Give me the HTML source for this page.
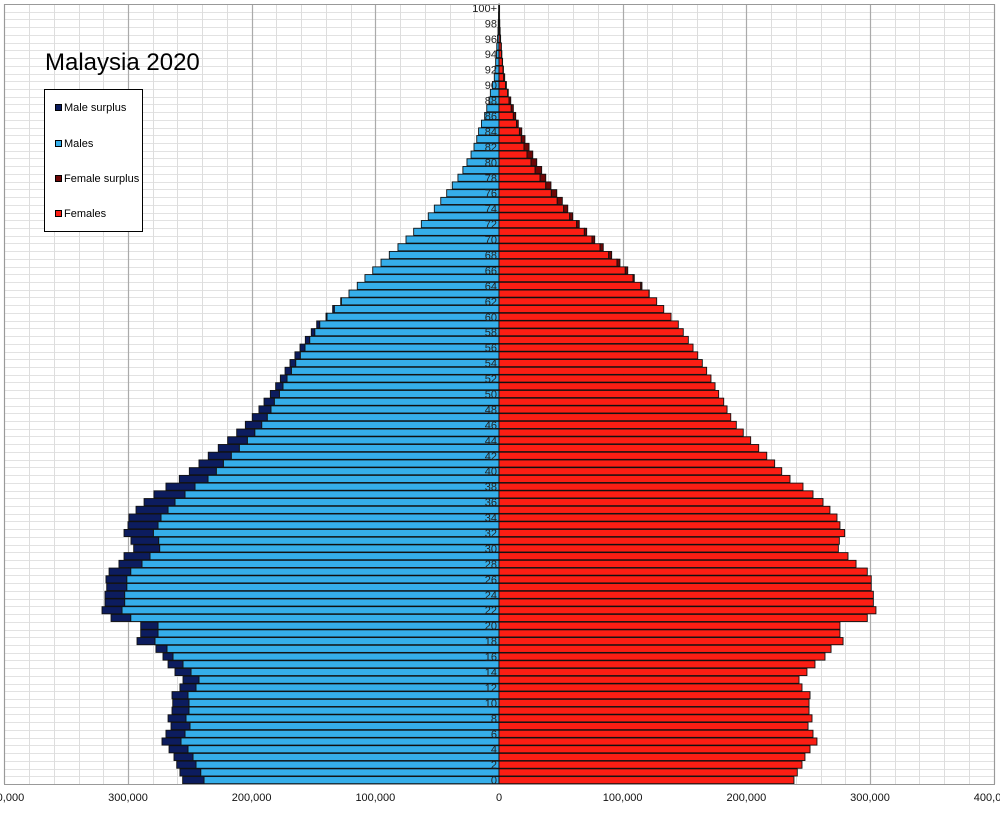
<!DOCTYPE html>
<html><head><meta charset="utf-8"><style>
html,body{margin:0;padding:0;background:#fff;}
svg{display:block;font-family:"Liberation Sans",sans-serif;}
</style></head><body>
<svg id="chart" width="1000" height="813" viewBox="0 0 1000 813" xmlns="http://www.w3.org/2000/svg">
<g id="grid"></g>
<g id="bars"></g>
<g id="ages"></g>
<rect x="4.5" y="4.5" width="990" height="780" fill="none" stroke="#999" stroke-width="1"/>
<g id="xticks"></g>
<text x="45" y="70" font-size="24" fill="#000">Malaysia 2020</text>
<g>
<rect x="44.5" y="89.5" width="98" height="142" fill="#fff" stroke="#000"/>
<g><rect x="55.5" y="104.5" width="6" height="6" fill="#0c1c5e" stroke="#000"/><text x="64" y="111" font-size="11">Male surplus</text></g>
<g><rect x="55.5" y="140.5" width="6" height="6" fill="#35aeea" stroke="#000"/><text x="64" y="147" font-size="11">Males</text></g>
<g><rect x="55.5" y="175.5" width="6" height="6" fill="#6e0606" stroke="#000"/><text x="64" y="182" font-size="11">Female surplus</text></g>
<g><rect x="55.5" y="210.5" width="6" height="6" fill="#fb1e14" stroke="#000"/><text x="64" y="217" font-size="11">Females</text></g>
</g>
</svg>
<script>
// population in thousands, ages 0..100+
const males = [255.8,258,260.6,262.8,266.8,272.5,269.3,265.2,267.6,264.4,263.8,264.4,258,255.5,262,267.6,271.7,277.4,292.7,289.7,289.7,313.7,321,318.6,318.6,317.2,317.8,315.3,307.3,303.2,295.4,297.6,303.2,300,299.2,293.5,287,279,269.3,258.5,250.4,242.6,235.1,227,219.4,212.1,205.1,199.5,194.1,190,184.9,180.6,176.8,173,169,165,160.9,156.6,151.8,147.4,139.9,134.5,128,121.3,114.6,108.4,102.1,95.4,88.7,81.7,75.2,69,62.8,57.2,52.3,47.1,42.3,37.8,33.2,29.2,25.9,22.6,20.2,18,16.5,14.2,11.6,9.9,8.1,7,5.3,3.8,3.2,2.7,2.1,1.8,1.2,0.8,0.6,0.4,0.3];
const females = [238.5,241.2,245,247.4,251.5,257.1,253.9,249.9,253.1,250.7,250.7,251.5,245,242.6,249,255.5,263.6,268.5,278.2,275.7,275.7,297.8,304.8,302.7,302.7,301,301,297.8,288.7,282.2,274.4,275.2,279.5,275.7,273.3,267.6,262,253.9,245.8,235.3,228.6,222.9,216.5,210,203.5,197.5,191.9,187.4,184.4,181.7,177.6,174.7,171.4,167.9,164.4,160.7,156.9,153.1,149,145,139.1,133.2,127.5,121.5,115.6,109.4,104.1,97.8,91.1,84.3,77.4,70.9,64.9,59.6,55.6,51.2,46.7,42,37.8,34.5,30.5,27.3,24.3,21,18.4,15.6,13.5,11.6,9.5,7.5,6.0,4.6,3.6,2.9,2.3,1.9,1.3,0.9,0.6,0.4,0.4];
const tickValues = [-400,-300,-200,-100,0,100,200,300,400];
const tickLabels = ["400,000","300,000","200,000","100,000","0","100,000","200,000","300,000","400,000"];

const NS="http://www.w3.org/2000/svg";
const X0=499, PX=1.2367, TOP=4, BOT=784;
const N=males.length, RH=(BOT-TOP)/N;
function xs(v){return X0+v*PX;}
function ys(age){return BOT-(age+1)*RH;}
function mk(tag,attrs,parent){const e=document.createElementNS(NS,tag);for(const k in attrs)e.setAttribute(k,attrs[k]);parent.appendChild(e);return e;}
const grid=document.getElementById('grid'), bars=document.getElementById('bars'), ages=document.getElementById('ages'), xt=document.getElementById('xticks');
// horizontal grid
for(let i=0;i<=N;i++){const y=Math.round(TOP+i*RH)+0.5;
 const l=mk('line',{x1:4,x2:994,y1:y,y2:y,stroke:'#e2e2e2','stroke-width':1},grid);
 
 }
// vertical grid
for(let v=-400;v<=400;v+=20){const x=Math.round(xs(v))+0.5;const major=v%100===0;
 const l=mk('line',{x1:x,x2:x,y1:TOP,y2:BOT,stroke:major?'#aaa':'#ddd','stroke-width':major?1.2:1},grid);
 
 }
// bars
for(let a=0;a<N;a++){
 const m=males[a], f=females[a], mn=Math.min(m,f), y=ys(a)+0.3, h=RH-0.6;
 const sty={stroke:'#111','stroke-width':0.9};
 let r=mk('rect',Object.assign({x:xs(-mn),y:y,width:xs(0)-xs(-mn),height:h,fill:'#35aeea'},sty),bars);
 
 
 if(m>f){r=mk('rect',Object.assign({x:xs(-m),y:y,width:xs(-mn)-xs(-m),height:h,fill:'#0c1c5e'},sty),bars);
  
  }
 r=mk('rect',Object.assign({x:xs(0),y:y,width:xs(mn)-xs(0),height:h,fill:'#fb1e14'},sty),bars);
 
 
 if(f>m){r=mk('rect',Object.assign({x:xs(mn),y:y,width:xs(f)-xs(mn),height:h,fill:'#6e0606'},sty),bars);
  
  }
 if(a%2===0){const t=mk('text',{x:497,y:ys(a)+RH/2+4,'font-size':11,'text-anchor':'end',fill:'#222'},ages);
  t.textContent=a===100?'100+':String(a);
  
  }
}
// x ticks
tickValues.forEach((v,i)=>{const t=mk('text',{x:xs(v),y:801,'font-size':11,'text-anchor':'middle',fill:'#111'},xt);
 t.textContent=tickLabels[i];
 
 });
</script>
</body></html>
